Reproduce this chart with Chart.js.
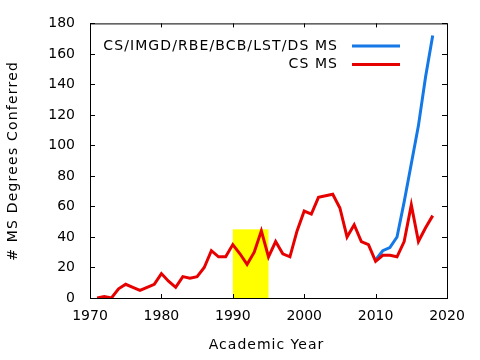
<!DOCTYPE html>
<html>
<head>
<meta charset="utf-8">
<script src="https://cdn.jsdelivr.net/npm/chart.js@4.4.1/dist/chart.umd.min.js"></script>
<style>
  html, body { margin: 0; padding: 0; background: #fff; }
</style>
</head>
<body>
<canvas id="chart" width="480" height="360"></canvas>
<script>
// ========================
// DATA
// ========================
const CS_YEARS = [
  1971, 1972, 1973, 1974, 1975, 1976, 1977, 1978, 1979, 1980,
  1981, 1982, 1983, 1984, 1985, 1986, 1987, 1988, 1989, 1990,
  1991, 1992, 1993, 1994, 1995, 1996, 1997, 1998, 1999, 2000,
  2001, 2002, 2003, 2004, 2005, 2006, 2007, 2008, 2009, 2010,
  2011, 2012, 2013, 2014, 2015, 2016, 2017, 2018
];
const CS_MS = [
  0, 1, 0, 6, 9, 7, 5, 7, 9, 16,
  11, 7, 14, 13, 14, 20, 31, 27, 27, 35,
  29, 22, 30, 44, 27, 37, 29, 27, 44, 57,
  55, 66, 67, 68, 59, 40, 48, 37, 35, 24,
  28, 28, 27, 37, 61, 37, 46, 54
];

const ALL_YEARS = [2010, 2011, 2012, 2013, 2014, 2015, 2016, 2017, 2018];
const ALL_MS = [25, 31, 33, 40, 63, 88, 113, 145, 172];

const SERIES_LABELS = ["CS/IMGD/RBE/BCB/LST/DS MS", "CS MS"];

// shaded block: years 1990-1995, up to 45
const HIGHLIGHT_YEARS = [1990, 1995];
const HIGHLIGHT_TOP = 45;

const X_TITLE = "Academic Year";
const Y_TITLE = "# MS Degrees Conferred";

const FONT = "DejaVu Sans";
const BLUE = "#1478e6";
const RED = "#e60000";

function toPoints(xs, ys) {
  return xs.map((x, i) => ({ x, y: ys[i] }));
}

// ========================
// Frame, ticks, legend, titles (gnuplot look)
// ========================
const gnuplotLook = {
  id: "gnuplotLook",
  beforeDatasetsDraw(chart) {
    const { ctx, scales: { x, y } } = chart;
    const x0 = x.getPixelForValue(HIGHLIGHT_YEARS[0]);
    const x1 = x.getPixelForValue(HIGHLIGHT_YEARS[1]);
    const y0 = y.getPixelForValue(0);
    const y1 = y.getPixelForValue(HIGHLIGHT_TOP);
    ctx.save();
    ctx.fillStyle = "#ffff00";
    ctx.fillRect(x0, y1, x1 - x0, y0 - y1);
    ctx.restore();
  },
  afterDatasetsDraw(chart) {
    const { ctx, chartArea: a, scales: { x, y } } = chart;
    ctx.save();
    ctx.strokeStyle = "#000";
    ctx.lineWidth = 1;

    // border
    ctx.strokeRect(a.left + 0.5, a.top + 0.5, a.right - a.left, a.bottom - a.top);

    // inward ticks, mirrored
    ctx.beginPath();
    for (const t of x.ticks) {
      const px = Math.round(x.getPixelForValue(t.value)) + 0.5;
      ctx.moveTo(px, a.bottom); ctx.lineTo(px, a.bottom - 4);
      ctx.moveTo(px, a.top); ctx.lineTo(px, a.top + 4);
    }
    for (const t of y.ticks) {
      const py = Math.round(y.getPixelForValue(t.value)) + 0.5;
      ctx.moveTo(a.left, py); ctx.lineTo(a.left + 5, py);
      ctx.moveTo(a.right, py); ctx.lineTo(a.right - 5, py);
    }
    ctx.stroke();

    // legend (gnuplot spaces its letters a bit wider)
    ctx.font = "14px '" + FONT + "'";
    ctx.letterSpacing = "1.1px";
    ctx.fillStyle = "#000";
    ctx.textAlign = "left";
    ctx.textBaseline = "middle";
    const rows = [
      { label: SERIES_LABELS[0], color: BLUE, y: 46 },
      { label: SERIES_LABELS[1], color: RED, y: 64.5 }
    ];
    for (const r of rows) {
      const w = ctx.measureText(r.label).width - 1.1;
      ctx.fillText(r.label, 337 - w, r.y);
      ctx.strokeStyle = r.color;
      ctx.lineWidth = 3;
      ctx.beginPath();
      ctx.moveTo(352, r.y);
      ctx.lineTo(400, r.y);
      ctx.stroke();
    }

    // axis titles
    ctx.letterSpacing = "1px";
    const xw = ctx.measureText(X_TITLE).width - 1;
    ctx.fillText(X_TITLE, 266 - xw / 2, 345);
    ctx.letterSpacing = "1.2px";
    const yw = ctx.measureText(Y_TITLE).width - 1.2;
    ctx.translate(13, 161.5);
    ctx.rotate(-Math.PI / 2);
    ctx.fillText(Y_TITLE, -yw / 2, 0);
    ctx.restore();
  }
};

// ========================
// Chart.js
// ========================
const ctx = document.getElementById("chart").getContext("2d");

new Chart(ctx, {
  type: "line",
  data: {
    datasets: [
      {
        label: SERIES_LABELS[0],
        data: toPoints(ALL_YEARS, ALL_MS),
        borderColor: BLUE,
        borderWidth: 3,
        pointRadius: 0,
        tension: 0,
        order: 1
      },
      {
        label: SERIES_LABELS[1],
        data: toPoints(CS_YEARS, CS_MS),
        borderColor: RED,
        borderWidth: 3,
        pointRadius: 0,
        tension: 0,
        order: 0
      }
    ]
  },
  options: {
    responsive: false,
    animation: false,
    layout: { padding: { left: 0, right: 33, top: 22, bottom: 0 } },
    plugins: { legend: { display: false }, tooltip: { enabled: false } },
    scales: {
      x: {
        type: "linear",
        min: 1970,
        max: 2020,
        grid: { display: false, drawTicks: false },
        border: { display: false },
        ticks: {
          stepSize: 10,
          padding: 10,
          color: "#000",
          font: { family: FONT, size: 14 },
          maxRotation: 0,
          callback: v => String(v)
        },
        afterFit: s => { s.height = 62; }
      },
      y: {
        min: 0,
        max: 180,
        grid: { display: false, drawTicks: false },
        border: { display: false },
        ticks: {
          stepSize: 20,
          padding: 15,
          color: "#000",
          font: { family: FONT, size: 14 }
        },
        afterFit: s => { s.width = 90; }
      }
    }
  },
  plugins: [gnuplotLook]
});
</script>
</body>
</html>
